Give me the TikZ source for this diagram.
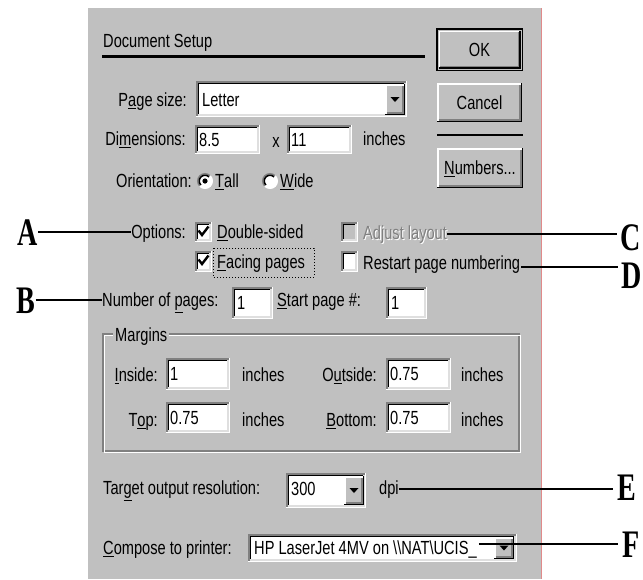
\documentclass[tikz,border=0pt]{standalone}
\usepackage{fontspec}
\setmainfont{Liberation Sans}[FakeStretch=0.77]
\newfontfamily\letterfont{Liberation Serif}[FakeStretch=0.72]

\definecolor{winface}{HTML}{C0C0C0}
\definecolor{windark}{HTML}{808080}
\definecolor{winlight}{HTML}{DFDFDF}
\definecolor{edgered}{HTML}{E08A8A}

% underlined mnemonic letter
\newcommand\mn[1]{\underline{#1}}

% raised 3D push button: x1 y1 x2 y2 (pixel coordinates, y downwards)
\newcommand\winbutton[4]{%
  \fill[winface] (#1,#2) rectangle (#3,#4);
  \draw[white, line width=1.5] (#1+0.75,#4-1) -- (#1+0.75,#2+0.75) -- (#3-1,#2+0.75);
  \draw[black, line width=1.5] (#1,#4-0.75) -- (#3-0.75,#4-0.75) -- (#3-0.75,#2);
  \draw[windark, line width=1.5] (#1+1.5,#4-2.25) -- (#3-2.25,#4-2.25) -- (#3-2.25,#2+1.5);
}
% sunken 3D field: x1 y1 x2 y2 fill
\newcommand\winfield[5]{%
  \fill[#5] (#1,#2) rectangle (#3,#4);
  \draw[windark, line width=1.5] (#1+0.75,#4) -- (#1+0.75,#2+0.75) -- (#3,#2+0.75);
  \draw[black, line width=1.5] (#1+2.25,#4-1.5) -- (#1+2.25,#2+2.25) -- (#3-1.5,#2+2.25);
  \draw[white, line width=1.5] (#1,#4-0.75) -- (#3-0.75,#4-0.75) -- (#3-0.75,#2);
  \draw[winlight, line width=1.5] (#1+1.5,#4-2.25) -- (#3-2.25,#4-2.25) -- (#3-2.25,#2+1.5);
}
% drop-down arrow centred at cx cy
\newcommand\winarrow[2]{%
  \fill[black] (#1-4.5,#2-2.5) -- (#1+4.5,#2-2.5) -- (#1,#2+2.5) -- cycle;
}
% check mark in a box whose top-left corner is x y
\newcommand\wintick[2]{%
  \draw[black, line width=2.4, line join=miter] (#1+3.5,#2+8.5) -- (#1+7,#2+13) -- (#1+13.5,#2+4.5);
}
% radio button centred at cx cy
\newcommand\winradio[2]{%
  \fill[white] (#1,#2) circle (7.5);
  \draw[windark, line width=1.5] (#1,#2) ++(-45:7.25) arc[start angle=-45, end angle=-225, radius=7.25];
  \draw[black, line width=1.5] (#1,#2) ++(-45:5.75) arc[start angle=-45, end angle=-225, radius=5.75];
  \draw[white, line width=1.5] (#1,#2) ++(135:7.25) arc[start angle=135, end angle=-45, radius=7.25];
}

\tikzset{
  dlg/.style={font=\fontsize{19pt}{20pt}\selectfont, inner sep=0pt, text height=13.6pt, text depth=0pt},
  letter/.style={font=\letterfont\bfseries\fontsize{39pt}{39pt}\selectfont, inner sep=0pt, text height=26pt, text depth=0pt},
  callout/.style={black, line width=1.6pt},
}

\begin{document}
\begin{tikzpicture}[x=1pt,y=-1pt]
\useasboundingbox (0,0) rectangle (643,579);
\fill[white] (0,0) rectangle (643,579);

% dialog face
\fill[winface] (88,8) rectangle (541,579);
\draw[edgered, line width=1] (541,8) -- (541,579);

% heading
\node[dlg, anchor=west] (title) at (103,41) {Document Setup};
\draw[line width=2.5] (102,56.5) -- (425,56.5);

% command buttons
\draw[black, line width=1.5] (436.75,28.75) rectangle (522.25,70.25);
\winbutton{438.5}{30.5}{520.5}{68.5}
\node[dlg] (ok) at (479.5,49.5) {OK};
\winbutton{437}{83}{522}{122}
\node[dlg] (cancel) at (479.5,102.5) {Cancel};
\draw[line width=2.5] (437,135) -- (523,135);
\winbutton{437}{148}{523}{188}
\node[dlg] (numbers) at (480,168) {\mn{N}umbers...};

% page size
\node[dlg, anchor=east] (psl) at (187,100) {P\mn{a}ge size:};
\winfield{196}{81}{407}{117}{white}
\node[dlg, anchor=west] (psv) at (202,99.5) {Letter};
\winbutton{385}{84}{405}{115}
\winarrow{395}{99.5}

% dimensions
\node[dlg, anchor=east] (diml) at (186,139) {Di\mn{m}ensions:};
\winfield{195}{125}{260}{154}{white}
\node[dlg, anchor=west] (dimw) at (199,139.5) {8.5};
\node[dlg] (times) at (276,141) {x};
\winfield{287}{125}{352}{154}{white}
\node[dlg, anchor=west] (dimh) at (291,139.5) {11};
\node[dlg, anchor=west] (dimu) at (363,139) {inches};

% orientation
\node[dlg, anchor=east] (orl) at (192,181) {Orientation:};
\winradio{205}{181}
\fill[black] (205,181) circle (2.6);
\node[dlg, anchor=west] (tall) at (215,181) {\mn{T}all};
\winradio{270}{181}
\node[dlg, anchor=west] (wide) at (280,181) {\mn{W}ide};

% options
\node[dlg, anchor=east] (opts) at (186,232) {Options:};
\winfield{195}{222}{212}{242}{white}
\wintick{195}{222}
\node[dlg, anchor=west] (dbl) at (217,232) {\mn{D}ouble-sided};
\winfield{195}{251}{212}{272}{white}
\wintick{195}{251}
\node[dlg, anchor=west] (facing) at (217,262) {\mn{F}acing pages};
\draw[dotted, line width=1] (213,248) rectangle (314,277);

\winfield{341}{222}{358}{242}{winface}
\node[dlg, anchor=west, white] (adjsh) at (364,234) {Adjust layout};
\node[dlg, anchor=west, windark] (adj) at (363,233) {Adjust layout};
\winfield{341}{251}{358}{272}{white}
\node[dlg, anchor=west] (restart) at (363,263) {Restart page numbering};

% page count
\node[dlg, anchor=west] (nump) at (102,300) {Number of \mn{p}ages:};
\winfield{232}{287}{273}{319}{white}
\node[dlg, anchor=west] (numv) at (237,303) {1};
\node[dlg, anchor=west] (startl) at (277,300) {\mn{S}tart page \#:};
\winfield{386}{287}{427}{319}{white}
\node[dlg, anchor=west] (startv) at (391,303) {1};

% margins group
\draw[windark, line width=1.2] (103,334) rectangle (519,451);
\draw[white, line width=1.2] (104.5,335.5) rectangle (520.5,452.5);
\node[dlg, anchor=west, fill=winface, inner xsep=2pt] (marg) at (113,335) {Margins};

\node[dlg, anchor=east] (insl) at (158,375) {\mn{I}nside:};
\winfield{166}{358}{230}{390}{white}
\node[dlg, anchor=west] (insv) at (170,374) {1};
\node[dlg, anchor=west] (insu) at (242,375) {inches};
\node[dlg, anchor=east] (outl) at (377,375) {O\mn{u}tside:};
\winfield{386}{358}{451}{390}{white}
\node[dlg, anchor=west] (outv) at (390,374) {0.75};
\node[dlg, anchor=west] (outu) at (461,375) {inches};

\node[dlg, anchor=east] (topl) at (158,420) {T\mn{o}p:};
\winfield{166}{402}{230}{433}{white}
\node[dlg, anchor=west] (topv) at (170,418) {0.75};
\node[dlg, anchor=west] (topu) at (242,420) {inches};
\node[dlg, anchor=east] (botl) at (377,420) {\mn{B}ottom:};
\winfield{386}{402}{451}{433}{white}
\node[dlg, anchor=west] (botv) at (390,418) {0.75};
\node[dlg, anchor=west] (botu) at (461,420) {inches};

% resolution
\node[dlg, anchor=west] (tgt) at (103,488) {Tar\mn{g}et output resolution:};
\winfield{286}{473}{366}{508}{white}
\node[dlg, anchor=west] (tgtv) at (291,489) {300};
\winbutton{344}{476}{364}{505}
\winarrow{354}{490.5}
\node[dlg, anchor=west] (dpi) at (379,488) {dpi};

% printer
\node[dlg, anchor=west] (cmpl) at (103,548) {\mn{C}ompose to printer:};
\winfield{248}{534}{517}{562}{white}
\winbutton{494}{537}{514}{559}
\winarrow{504}{548}
\node[dlg, anchor=west] (prn) at (254,548) {HP LaserJet 4MV on \textbackslash\textbackslash NAT\textbackslash UCIS\_};

% callout letters
\node[letter] (lA) at (28,232) {A};
\node[letter] (lB) at (26,300) {B};
\node[letter] (lC) at (631,237.5) {C};
\node[letter] (lD) at (632,275) {D};
\node[letter] (lE) at (627,487.5) {E};
\node[letter] (lF) at (631,544) {F};

% callout lines
\draw[callout] (lA.east) -- (opts.west);
\draw[callout] (lB.east) -- (nump.west);
\coordinate (cEnd) at ([xshift=-4pt]lC.west);
\coordinate (cStart) at ([yshift=-1pt]adj.east);
\draw[callout] (cStart) -- (cStart -| cEnd);
\coordinate (dEnd) at ([xshift=-4pt]lD.west);
\coordinate (dStart) at ([yshift=-4pt,xshift=1pt]restart.east);
\draw[callout] (dStart) -- (dStart -| dEnd);
\coordinate (eEnd) at ([xshift=-4pt]lE.west);
\coordinate (eStart) at ([yshift=-1pt]dpi.east);
\draw[callout] (eStart) -- (eStart -| eEnd);
\coordinate (fEnd) at ([xshift=-4pt]lF.west);
\coordinate (fStart) at ([yshift=4pt,xshift=2pt]prn.east);
\draw[callout] (fStart) -- (fStart -| fEnd);
\end{tikzpicture}
\end{document}
